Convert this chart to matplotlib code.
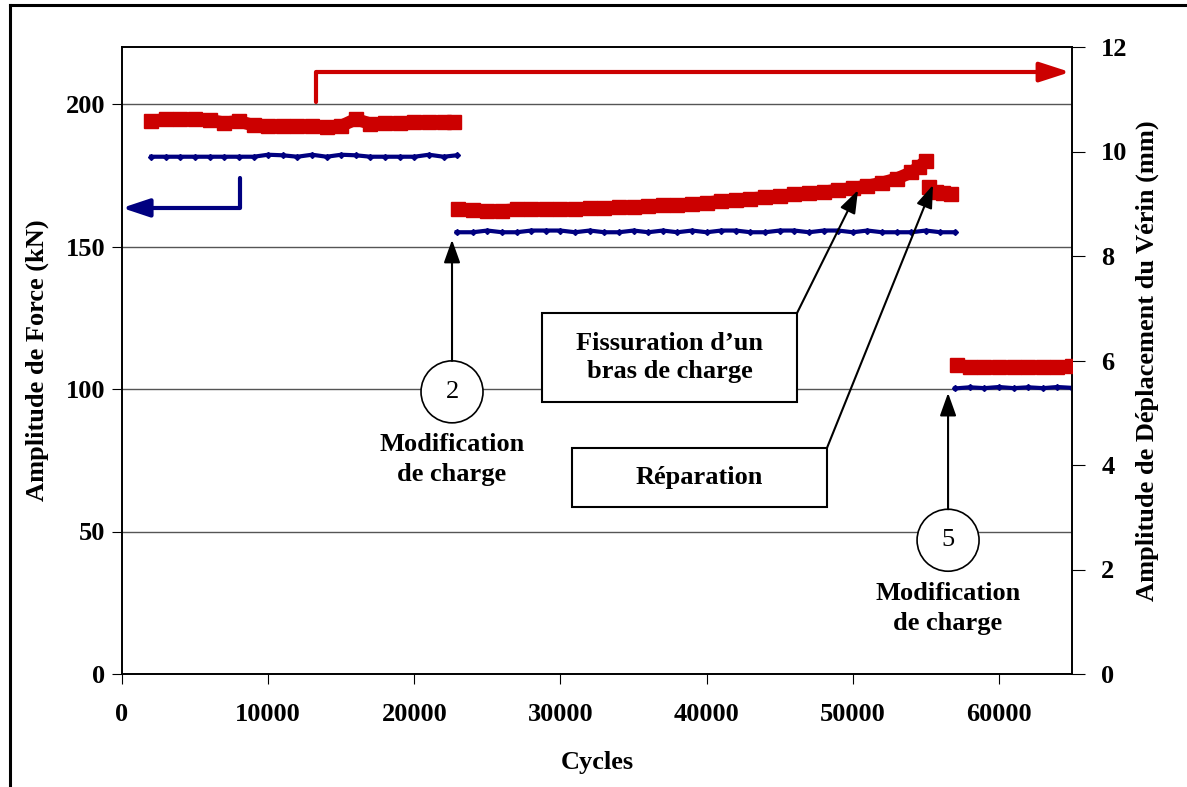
import matplotlib
matplotlib.use("Agg")
import matplotlib.pyplot as plt
from matplotlib.lines import Line2D
from matplotlib.patches import Ellipse, Rectangle

plt.rcParams["font.family"] = ["Liberation Serif", "DejaVu Serif"]
plt.rcParams["font.weight"] = "bold"
plt.rcParams["axes.labelweight"] = "bold"
plt.rcParams["font.size"] = 19

# force amplitude (kN), left axis
force_x1 = [2000, 3000, 4000, 5000, 6000, 7000, 8000, 9000, 10000, 11000, 12000,
            13000, 14000, 15000, 16000, 17000, 18000, 19000, 20000, 21000, 22000, 22900]
force_y1 = [181.5, 181.5, 181.5, 181.5, 181.5, 181.5, 181.5, 181.5, 182.2, 182.0, 181.5,
            182.2, 181.5, 182.2, 182.0, 181.5, 181.5, 181.5, 181.5, 182.2, 181.5, 182.0]
force_x2 = [22900, 24000, 25000, 26000, 27000, 28000, 29000, 30000, 31000, 32000, 33000,
            34000, 35000, 36000, 37000, 38000, 39000, 40000, 41000, 42000, 43000, 44000,
            45000, 46000, 47000, 48000, 49000, 50000, 51000, 52000, 53000, 54000, 55000,
            56000, 57000]
force_y2 = [155.0, 155.0, 155.6, 155.0, 155.0, 155.6, 155.6, 155.6, 155.0, 155.6, 155.0,
            155.0, 155.6, 155.0, 155.6, 155.0, 155.6, 155.0, 155.6, 155.6, 155.0, 155.0,
            155.6, 155.6, 155.0, 155.6, 155.6, 155.0, 155.6, 155.0, 155.0, 155.0, 155.6,
            155.0, 155.0]
force_x3 = [57000, 58000, 59000, 60000, 61000, 62000, 63000, 64000, 65000]
force_y3 = [100.2, 100.6, 100.3, 100.7, 100.3, 100.6, 100.3, 100.7, 100.4]

# actuator displacement amplitude (mm), right axis
disp_x1 = [2000, 3000, 4000, 5000, 6000, 7000, 8000, 9000, 10000, 11000, 12000,
           13000, 14000, 15000, 16000, 17000, 18000, 19000, 20000, 21000, 22000, 22700]
disp_y1 = [10.58, 10.62, 10.63, 10.62, 10.60, 10.55, 10.58, 10.50, 10.49, 10.48, 10.48,
           10.48, 10.47, 10.49, 10.62, 10.53, 10.54, 10.55, 10.56, 10.57, 10.57, 10.57]
disp_x2 = [23000, 24000, 25000, 26000, 27000, 28000, 29000, 30000, 31000, 32000, 33000,
           34000, 35000, 36000, 37000, 38000, 39000, 40000, 41000, 42000, 43000, 44000,
           45000, 46000, 47000, 48000, 49000, 50000, 51000, 52000, 53000, 54000, 54500,
           55000]
disp_y2 = [8.90, 8.88, 8.86, 8.87, 8.89, 8.90, 8.90, 8.90, 8.90, 8.91, 8.92,
           8.93, 8.94, 8.96, 8.97, 8.98, 9.00, 9.02, 9.05, 9.07, 9.10, 9.12,
           9.14, 9.18, 9.20, 9.23, 9.26, 9.30, 9.34, 9.40, 9.48, 9.60, 9.70,
           9.82]
disp_x3 = [55200, 55700, 56200, 56700]
disp_y3 = [9.33, 9.22, 9.20, 9.18]
disp_x4 = [57100, 58000, 59000, 60000, 61000, 62000, 63000, 64000, 65000]
disp_y4 = [5.91, 5.88, 5.88, 5.87, 5.88, 5.88, 5.87, 5.88, 5.89]

x_ticks = [0, 10000, 20000, 30000, 40000, 50000, 60000]
force_ticks = [0, 50, 100, 150, 200]
disp_ticks = [0, 2, 4, 6, 8, 10, 12]

BLUE = "#000080"
RED = "#CC0000"

W, H = 1187, 787
fig = plt.figure(figsize=(W / 100, H / 100), dpi=100)
ax = fig.add_axes([122 / W, 1 - 674 / H, 950 / W, 627 / H])
ax2 = ax.twinx()

for xs, ys in [(force_x1, force_y1), (force_x2, force_y2), (force_x3, force_y3)]:
    ax.plot(xs, ys, color=BLUE, lw=3, marker="D", ms=3, zorder=3)
for xs, ys in [(disp_x1, disp_y1), (disp_x2, disp_y2), (disp_x3, disp_y3), (disp_x4, disp_y4)]:
    ax2.plot(xs, ys, color=RED, lw=9, marker="s", ms=9.5, solid_joinstyle="miter",
             solid_capstyle="butt", zorder=3)

ax.set_xlim(0, 65000)
ax.set_ylim(0, 220)
ax2.set_ylim(0, 12)
ax.set_xticks(x_ticks)
ax.set_yticks(force_ticks)
ax2.set_yticks(disp_ticks)
ax.set_axisbelow(True)
ax.yaxis.grid(True, color="#555555", lw=1)

ax.tick_params(axis="y", length=7, pad=5)
ax.tick_params(axis="x", length=7, pad=14)
ax2.tick_params(axis="y", length=9, pad=12)
for a in (ax, ax2):
    for sp in a.spines.values():
        sp.set_color("black")
        sp.set_linewidth(1.2)

ax.set_xlabel("Cycles", labelpad=18)
ax.set_ylabel("Amplitude de Force (kN)", labelpad=12)
ax2.set_ylabel("Amplitude de Déplacement du Vérin (mm)", labelpad=6)


def bent_arrow(start, end, color, hl, hw):
    ax2.annotate("", xy=end, xytext=start, zorder=6,
                 arrowprops=dict(arrowstyle=f"-|>,head_length={hl},head_width={hw}",
                                 connectionstyle="angle,angleA=90,angleB=0,rad=0",
                                 color=color, lw=3, shrinkA=0, shrinkB=0,
                                 mutation_scale=10))


def thin_arrow(start, end):
    ax2.annotate("", xy=end, xytext=start, zorder=6,
                 arrowprops=dict(arrowstyle="-|>,head_length=1.4,head_width=0.5",
                                 color="black", lw=1.5, shrinkA=0, shrinkB=0,
                                 mutation_scale=10))


# blue arrow -> left axis, red arrow -> right axis
bent_arrow((8070, 9.49), (0, 8.92), BLUE, 1.65, 0.55)
bent_arrow((13270, 10.95), (64870, 11.52), RED, 1.85, 0.6)

# circled numbers with "Modification de charge"
for cx, cy, num, tip in [(22580, 5.40, "2", 8.31), (56520, 2.56, "5", 5.38)]:
    ax2.add_patch(Ellipse((cx, cy), 2 * 2121, 2 * 0.593, facecolor="white",
                          edgecolor="black", lw=1.2, zorder=5))
    ax2.text(cx, cy, num, ha="center", va="center", fontweight="normal", zorder=7)
    thin_arrow((cx, cy + 0.593), (cx, tip))
    ax2.text(cx, cy - 1.30, "Modification\nde charge", ha="center", va="center",
             linespacing=1.4, zorder=7)

# boxed labels
for x0, x1, y0, y1, label, tip in [
    (28740, 46190, 5.21, 6.91, "Fissuration d’un\nbras de charge", (50360, 9.26)),
    (30790, 48240, 3.20, 4.33, "Réparation", (55490, 9.36)),
]:
    ax2.add_patch(Rectangle((x0, y0), x1 - x0, y1 - y0, facecolor="white",
                            edgecolor="black", lw=1.5, zorder=5))
    ax2.text((x0 + x1) / 2, (y0 + y1) / 2, label, ha="center", va="center",
             linespacing=1.3, zorder=7)
    thin_arrow((x1, y1), tip)

# outer frame (top and left only visible)
fig.add_artist(Line2D([10 / W, 1], [1 - 5 / H, 1 - 5 / H], transform=fig.transFigure,
                      color="black", lw=2.2))
fig.add_artist(Line2D([10 / W, 10 / W], [0, 1 - 5 / H], transform=fig.transFigure,
                      color="black", lw=2.2))

fig.savefig("out.png", dpi=100)
